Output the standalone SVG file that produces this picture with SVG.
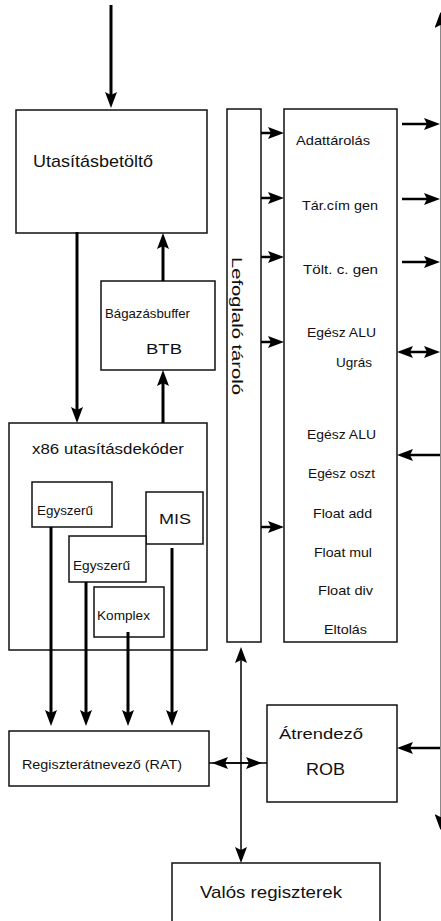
<svg xmlns="http://www.w3.org/2000/svg" width="441" height="921" viewBox="0 0 441 921">
<defs>
<marker id="ah" viewBox="0 0 16 12" refX="8" refY="6" markerWidth="16" markerHeight="12" markerUnits="userSpaceOnUse" orient="auto-start-reverse">
<path d="M0,0 L16,6 L0,12 L3,6 z" fill="#000"/>
</marker>
<style>
.box{fill:#fff;stroke:#111;stroke-width:1.5}
.t{font-family:"Liberation Sans",Arial,sans-serif;fill:#111}
.thick{stroke:#000;stroke-width:3;fill:none}
.med{stroke:#000;stroke-width:2.5;fill:none}
.thin{stroke:#000;stroke-width:1.5;fill:none}
</style>
</defs>
<rect width="441" height="921" fill="#fff"/>

<g id="utasitasbetolto">
<rect class="box" x="16" y="110" width="191" height="123"/>
<text class="t" x="33" y="167" font-size="17" textLength="120" lengthAdjust="spacingAndGlyphs">Utasításbetöltő</text>
</g>
<g id="btb">
<rect class="box" x="101" y="281" width="114" height="89"/>
<text class="t" x="105" y="318" font-size="13" textLength="85" lengthAdjust="spacingAndGlyphs">Bágazásbuffer</text>
<text class="t" x="146" y="354" font-size="15" textLength="36" lengthAdjust="spacingAndGlyphs">BTB</text>
</g>
<g id="dekoder">
<rect class="box" x="9" y="423" width="198" height="227"/>
<text class="t" x="32" y="454" font-size="15" textLength="152" lengthAdjust="spacingAndGlyphs">x86 utasításdekóder</text>
</g>
<g id="egyszeru1">
<rect class="box" x="32" y="482" width="80" height="45"/>
<text class="t" x="37" y="515" font-size="12" textLength="56" lengthAdjust="spacingAndGlyphs">Egyszerű</text>
</g>
<g id="mis">
<rect class="box" x="146" y="492" width="57" height="52"/>
<text class="t" x="159" y="524" font-size="15" textLength="32" lengthAdjust="spacingAndGlyphs">MIS</text>
</g>
<g id="egyszeru2">
<rect class="box" x="69" y="536" width="77" height="46"/>
<text class="t" x="73" y="570" font-size="12" textLength="57" lengthAdjust="spacingAndGlyphs">Egyszerű</text>
</g>
<g id="komplex">
<rect class="box" x="94" y="587" width="70" height="50"/>
<text class="t" x="97" y="620" font-size="12" textLength="53" lengthAdjust="spacingAndGlyphs">Komplex</text>
</g>
<g id="lefoglalo">
<rect class="box" x="227" y="109" width="34" height="533"/>
<text class="t" transform="translate(232,257) rotate(90)" x="0" y="0" font-size="14" textLength="138" lengthAdjust="spacingAndGlyphs">Lefoglaló tároló</text>
</g>
<g id="vegrehajto">
<rect class="box" x="284" y="109" width="113" height="533"/>
<text class="t" x="296" y="145" font-size="13" textLength="74" lengthAdjust="spacingAndGlyphs">Adattárolás</text>
<text class="t" x="302" y="210" font-size="13" textLength="76" lengthAdjust="spacingAndGlyphs">Tár.cím gen</text>
<text class="t" x="303" y="274" font-size="13" textLength="75" lengthAdjust="spacingAndGlyphs">Tölt. c. gen</text>
<text class="t" x="307" y="337" font-size="13" textLength="69" lengthAdjust="spacingAndGlyphs">Egész ALU</text>
<text class="t" x="336" y="367" font-size="13" textLength="36" lengthAdjust="spacingAndGlyphs">Ugrás</text>
<text class="t" x="307" y="439" font-size="13" textLength="69" lengthAdjust="spacingAndGlyphs">Egész ALU</text>
<text class="t" x="308" y="478" font-size="13" textLength="67" lengthAdjust="spacingAndGlyphs">Egész oszt</text>
<text class="t" x="313" y="518" font-size="13" textLength="59" lengthAdjust="spacingAndGlyphs">Float add</text>
<text class="t" x="314" y="557" font-size="13" textLength="58" lengthAdjust="spacingAndGlyphs">Float mul</text>
<text class="t" x="318" y="595" font-size="13" textLength="55" lengthAdjust="spacingAndGlyphs">Float div</text>
<text class="t" x="324" y="634" font-size="13" textLength="43" lengthAdjust="spacingAndGlyphs">Eltolás</text>
</g>
<g id="rat">
<rect class="box" x="9" y="731" width="200" height="55"/>
<text class="t" x="22" y="769" font-size="13" textLength="160" lengthAdjust="spacingAndGlyphs">Regiszterátnevező (RAT)</text>
</g>
<g id="rob">
<rect class="box" x="267" y="705" width="130" height="97"/>
<text class="t" x="279" y="739" font-size="15" textLength="84" lengthAdjust="spacingAndGlyphs">Átrendező</text>
<text class="t" x="306" y="775" font-size="17" textLength="39" lengthAdjust="spacingAndGlyphs">ROB</text>
</g>
<g id="valos">
<rect class="box" x="172" y="863" width="208" height="80"/>
<text class="t" x="200" y="898" font-size="17" textLength="142" lengthAdjust="spacingAndGlyphs">Valós regiszterek</text>
</g>

<g id="connectors">
<line class="thick" x1="111" y1="5" x2="111" y2="100" marker-end="url(#ah)"/>
<line class="thick" x1="77" y1="232" x2="77" y2="415" marker-end="url(#ah)"/>
<line class="thick" x1="163" y1="281" x2="163" y2="241" marker-end="url(#ah)"/>
<line class="thick" x1="163" y1="423" x2="163" y2="378" marker-end="url(#ah)"/>
<line class="thick" x1="51" y1="527" x2="51" y2="718" marker-end="url(#ah)"/>
<line class="thick" x1="86" y1="582" x2="86" y2="718" marker-end="url(#ah)"/>
<line class="thick" x1="128" y1="632" x2="128" y2="718" marker-end="url(#ah)"/>
<line class="thick" x1="172" y1="548" x2="172" y2="718" marker-end="url(#ah)"/>

<line class="med" x1="261" y1="133" x2="276" y2="133" marker-end="url(#ah)"/>
<line class="med" x1="261" y1="198" x2="276" y2="198" marker-end="url(#ah)"/>
<line class="med" x1="261" y1="257" x2="276" y2="257" marker-end="url(#ah)"/>
<line class="med" x1="261" y1="342" x2="276" y2="342" marker-end="url(#ah)"/>
<line class="med" x1="261" y1="527" x2="276" y2="527" marker-end="url(#ah)"/>

<line class="med" x1="402" y1="124" x2="432" y2="124" marker-end="url(#ah)"/>
<line class="med" x1="402" y1="199" x2="432" y2="199" marker-end="url(#ah)"/>
<line class="med" x1="402" y1="262" x2="432" y2="262" marker-end="url(#ah)"/>
<line class="med" x1="405" y1="352" x2="432" y2="352" marker-start="url(#ah)" marker-end="url(#ah)"/>
<line class="med" x1="440" y1="455" x2="405" y2="455" marker-end="url(#ah)"/>
<line class="med" x1="440" y1="748" x2="405" y2="748" marker-end="url(#ah)"/>

<line x1="440.5" y1="20" x2="440.5" y2="822" stroke="#888" stroke-width="1" marker-start="url(#ah)" marker-end="url(#ah)"/>

<line class="thin" x1="241" y1="655" x2="241" y2="855" marker-start="url(#ah)" marker-end="url(#ah)"/>
<line class="thin" x1="220" y1="763" x2="254" y2="763" marker-start="url(#ah)" marker-end="url(#ah)"/>
<line class="thin" x1="241" y1="763" x2="267" y2="763"/>
<line class="thin" x1="209" y1="763" x2="241" y2="763"/>
</g>
</svg>
